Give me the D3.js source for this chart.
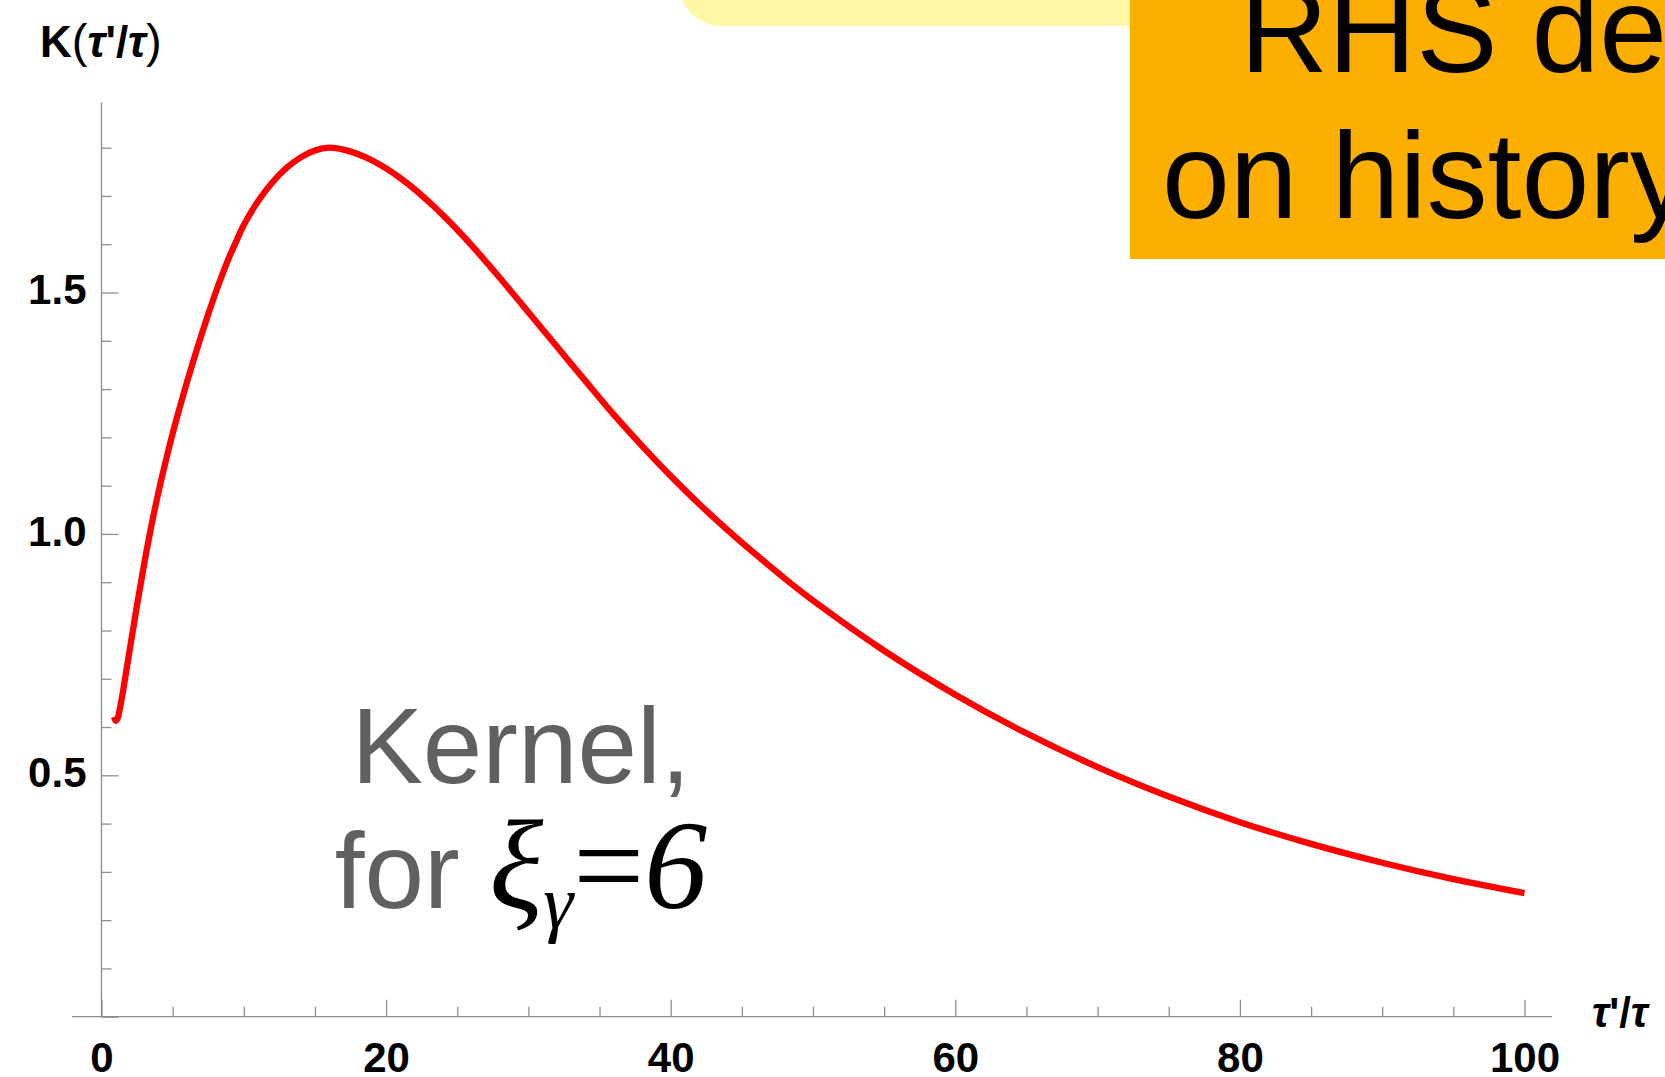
<!DOCTYPE html>
<html>
<head>
<meta charset="utf-8">
<script src="https://cdn.jsdelivr.net/npm/d3@7"></script>
<style>
  html, body { margin: 0; padding: 0; background: #ffffff; }
  svg { display: block; }
</style>
</head>
<body>
<svg id="chart" width="1665" height="1077"></svg>
<script>
// Memory kernel K(τ'/τ) sampled along τ'/τ
const ratio = [0.88, 1.0, 1.12, 1.25, 1.5, 2.0, 2.5, 3.0, 3.5, 4.0, 4.5, 5.0, 5.5, 6.0, 6.5, 7.0, 7.5, 8.0, 8.5, 9.0, 9.5,
  10, 11, 12, 13, 14, 15, 16, 17, 18, 19, 20, 21, 22, 23, 24, 25, 26, 28, 30, 32, 34, 36, 38, 40, 42, 44, 46, 48, 50,
  55, 60, 65, 70, 75, 80, 85, 90, 95, 100];
const kernel = [0.621, 0.613, 0.617, 0.632, 0.672, 0.763, 0.853, 0.938, 1.016, 1.086, 1.149, 1.208, 1.262, 1.314, 1.363, 1.410, 1.455, 1.498, 1.538, 1.575, 1.608,
  1.640, 1.689, 1.728, 1.758, 1.780, 1.794, 1.800, 1.796, 1.787, 1.774, 1.757, 1.737, 1.714, 1.688, 1.660, 1.630, 1.598, 1.530, 1.459, 1.388, 1.317, 1.247, 1.182, 1.120, 1.062, 1.008, 0.957, 0.908, 0.862,
  0.758, 0.667, 0.587, 0.517, 0.456, 0.403, 0.358, 0.319, 0.285, 0.256];

const xMajorTicks = [0, 20, 40, 60, 80, 100];
const xMinorTicks = [5, 10, 15, 25, 30, 35, 45, 50, 55, 65, 70, 75, 85, 90, 95];
const yLabelTicks = [0.5, 1.0, 1.5];
const yOriginTick = [0];
const yMinorTicks = [0.1, 0.2, 0.3, 0.4, 0.6, 0.7, 0.8, 0.9, 1.1, 1.2, 1.3, 1.4, 1.6, 1.7, 1.8];

const banner = ["RHS depends", "on history"];

const svg = d3.select("#chart");

const x = d3.scaleLinear().domain([0, 100]).range([101.5, 1524.5]);
const y = d3.scaleLinear().domain([0, 1.894]).range([1016.7, 102.3]);

const axisColor = "#8e8e8e";
const sans = "'Liberation Sans', Arial, Helvetica, sans-serif";
const serif = "'Liberation Serif', 'Times New Roman', Times, serif";

// Callout panels along the top edge
svg.append("rect")
  .attr("x", 679).attr("y", -120)
  .attr("width", 620).attr("height", 146)
  .attr("rx", 42).attr("ry", 42)
  .attr("fill", "#fff6a6");

svg.append("rect")
  .attr("x", 1130).attr("y", -10)
  .attr("width", 560).attr("height", 269)
  .attr("fill", "#fcaf00");

const bannerText = svg.append("g")
  .attr("font-family", sans)
  .attr("font-size", 122)
  .attr("fill", "#000");
bannerText.append("text").attr("x", 1240).attr("y", 71.5).text(banner[0]);
bannerText.append("text").attr("x", 1162).attr("y", 218).text(banner[1]);

// Axis lines (x axis runs a little past both ends of the data range)
svg.append("line")
  .attr("x1", x.range()[0] - 29.5).attr("x2", x.range()[1] + 27.5)
  .attr("y1", y(0)).attr("y2", y(0))
  .attr("stroke", axisColor).attr("stroke-width", 1.3);
svg.append("line")
  .attr("x1", x(0)).attr("x2", x(0))
  .attr("y1", y.range()[0]).attr("y2", y.range()[1])
  .attr("stroke", axisColor).attr("stroke-width", 1.3);

// x axis: major ticks with labels, minor ticks
const xMajor = svg.append("g")
  .attr("transform", `translate(0,${y(0)})`)
  .call(d3.axisBottom(x).tickValues(xMajorTicks).tickSize(-17).tickPadding(25)
    .tickFormat(d3.format("d")));
const xMinor = svg.append("g")
  .attr("transform", `translate(0,${y(0)})`)
  .call(d3.axisBottom(x).tickValues(xMinorTicks).tickSize(-10).tickFormat(""));

// y axis: labelled major ticks, unlabelled origin tick, minor ticks
const yMajor = svg.append("g")
  .attr("transform", `translate(${x(0)},0)`)
  .call(d3.axisLeft(y).tickValues(yLabelTicks).tickSize(-17).tickPadding(15)
    .tickFormat(d3.format(".1f")));
const yOrigin = svg.append("g")
  .attr("transform", `translate(${x(0)},0)`)
  .call(d3.axisLeft(y).tickValues(yOriginTick).tickSize(-17).tickFormat(""));
const yMinor = svg.append("g")
  .attr("transform", `translate(${x(0)},0)`)
  .call(d3.axisLeft(y).tickValues(yMinorTicks).tickSize(-10).tickFormat(""));

[xMajor, xMinor, yMajor, yOrigin, yMinor].forEach(g => {
  g.select(".domain").remove();
  g.selectAll(".tick line").attr("stroke", axisColor).attr("stroke-width", 1.3);
  g.selectAll(".tick text")
    .attr("fill", "#000")
    .attr("font-family", sans)
    .attr("font-weight", "bold")
    .attr("font-size", 42);
});
[xMinor, yOrigin, yMinor].forEach(g => g.selectAll(".tick text").remove());
yMajor.selectAll(".tick text").attr("dy", "0.27em");

// Kernel curve
const pts = ratio.map((r, i) => [r, kernel[i]]);
svg.append("path")
  .datum(pts)
  .attr("fill", "none")
  .attr("stroke", "#ff0000")
  .attr("stroke-width", 6.3)
  .attr("d", d3.line()
    .x(d => x(d[0]))
    .y(d => y(d[1]))
    .curve(d3.curveCatmullRom.alpha(0.5)));

// Axis titles
const yTitle = svg.append("text")
  .attr("x", 40).attr("y", 57)
  .attr("font-family", sans)
  .attr("font-size", 44)
  .attr("fill", "#000");
yTitle.append("tspan").attr("font-weight", "bold").text("K");
yTitle.append("tspan").attr("font-size", 47).text("(");
yTitle.append("tspan").attr("font-weight", "bold").attr("font-style", "italic").text("τ");
yTitle.append("tspan").attr("font-weight", "bold").text("'/");
yTitle.append("tspan").attr("font-weight", "bold").attr("font-style", "italic").text("τ");
yTitle.append("tspan").attr("font-size", 47).text(")");

const xTitle = svg.append("text")
  .attr("x", 1592).attr("y", 1027)
  .attr("font-family", sans)
  .attr("font-size", 42)
  .attr("font-weight", "bold")
  .attr("fill", "#000");
xTitle.append("tspan").attr("font-style", "italic").text("τ");
xTitle.append("tspan").text("'/");
xTitle.append("tspan").attr("font-style", "italic").text("τ");

// In-plot annotation
svg.append("text")
  .attr("x", 521).attr("y", 783)
  .attr("text-anchor", "middle")
  .attr("font-family", sans)
  .attr("font-size", 107)
  .attr("fill", "#606060")
  .text("Kernel,");

const line2 = svg.append("text")
  .attr("x", 521).attr("y", 908)
  .attr("text-anchor", "middle")
  .attr("font-family", sans)
  .attr("font-size", 107)
  .attr("fill", "#606060");
line2.append("tspan").text("for ");
line2.append("tspan").attr("font-family", serif).attr("font-style", "italic")
  .attr("font-size", 126).attr("fill", "#000").text("ξ");
line2.append("tspan").attr("font-family", serif).attr("font-style", "italic")
  .attr("font-size", 76).attr("fill", "#000").attr("dy", 20).text("γ");
line2.append("tspan").attr("font-family", serif)
  .attr("font-size", 126).attr("fill", "#000").attr("dy", -20).text("=");
line2.append("tspan").attr("font-family", serif).attr("font-style", "italic")
  .attr("font-size", 126).attr("fill", "#000").text("6");
</script>
</body>
</html>
